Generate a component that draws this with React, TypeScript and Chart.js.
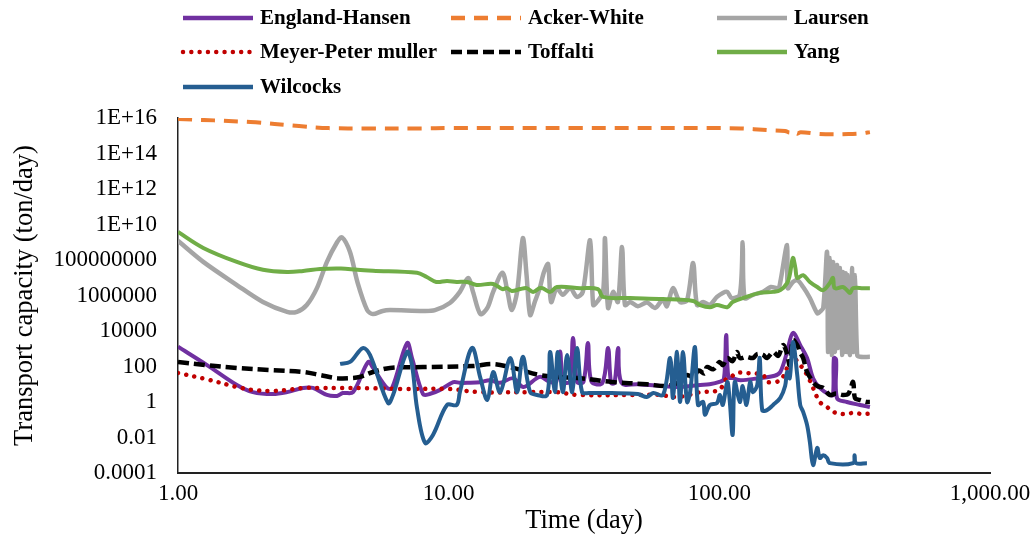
import React, { useEffect, useRef } from "react";
import { Chart, registerables } from "chart.js";

Chart.register(...registerables);

type Pt = [number, number]; // [day, ton/day]

const englandHansen: Pt[] = [
  [1, 1300], [1.28, 120], [1.65, 9], [1.89, 3.6], [2.24, 2.8], [2.53, 3.6], [2.9, 6.2], [3.15, 6.2],
  [3.55, 2.5], [3.87, 2.2], [4.07, 3.2], [4.43, 3.6], [5.04, 180], [5.26, 83], [5.92, 6.2], [6.18, 6.2],
  [7.02, 2100], [7.32, 300], [8.04, 2.8], [8.5, 2.8], [9.3, 4.8], [10.4, 13], [11, 12], [11.7, 12],
  [13.1, 13], [14.2, 17], [15.5, 12], [17.3, 22], [18.9, 7], [21.7, 26], [23.5, 14], [25, 14],
  [25.8, 700], [26.5, 14], [28, 14], [28.8, 4000], [29.8, 14], [31.5, 14], [32.7, 2100], [33.7, 14],
  [37, 12], [38.8, 1100], [39.8, 12], [41, 12], [42.3, 1100], [43.5, 12], [50, 10], [55, 9],
  [62, 8], [70, 7], [78, 8], [85, 9], [92, 10], [100, 13.5], [104, 20], [106, 5900],
  [108, 25], [112, 22], [120, 17], [140, 22], [160, 30], [168, 49], [178, 660], [187, 7800],
  [199, 1600], [211, 300], [222, 22], [235, 6.2], [256, 2.5], [263, 2.5], [265, 300], [270, 250],
  [272, 1.7], [296, 1], [331, 0.68], [360, 0.52],
];

const ackerWhite: Pt[] = [
  [1, 8.8e15], [1.85, 5.9e15], [2.8, 3.5e15], [3.6, 2.7e15], [5, 2.6e15], [8, 2.6e15], [10, 2.7e15],
  [30, 2.7e15], [60, 2.7e15], [100, 2.7e15], [120, 2.6e15], [150, 2.1e15], [175, 1.85e15], [182, 1.5e15],
  [187, 1.9e15], [194, 1.3e15], [200, 1.6e15], [230, 1.3e15], [260, 1.2e15], [300, 1.25e15],
  [340, 1.4e15], [360, 1.6e15],
];

const laursen: Pt[] = [
  [1, 1.2e9], [1.24, 7.8e7], [1.65, 3.9e6], [2.06, 4.3e5], [2.53, 1.2e5], [2.75, 1.2e5], [2.99, 2.9e5],
  [3.26, 2.6e6], [3.55, 7.8e7], [3.87, 1e9], [4.03, 1.9e9], [4.32, 2.8e8], [4.6, 5.8e6], [5, 1.5e5],
  [5.25, 9e4], [5.7, 1.35e5], [6.07, 1.5e5], [8.04, 1.35e5], [8.9, 1.5e5], [10.1, 3.8e5], [11, 1.6e6],
  [11.8, 9.8e6], [12.3, 1.6e6], [13.1, 9e4], [13.9, 2e5], [14.6, 1.6e6], [15.8, 1.9e7], [16.5, 1.6e6],
  [17.1, 1.5e5], [17.9, 1.6e6], [18.8, 1.7e9], [19.4, 1.4e7], [20, 8e4], [20.8, 4.3e5], [21.7, 2.6e6],
  [22.5, 2.1e7], [23.3, 5.9e7], [23.9, 4.3e5], [25.1, 2.6e6], [26.4, 1.1e6], [28.1, 2.6e6], [29.8, 8.3e5],
  [31.3, 1.6e6], [33.3, 1.3e9], [34.2, 2.9e5], [35.3, 4.3e5], [37.2, 1.6e6], [37.8, 1.7e9], [38.8, 2e5],
  [40.5, 1.6e6], [42.2, 4.3e5], [43.7, 5.4e8], [44.8, 2.9e5], [46.8, 4.3e5], [50, 2.5e5], [54, 4e5],
  [58, 2e5], [61.9, 6e5], [64, 2.5e5], [67.4, 2.6e6], [71.6, 4.3e5], [76, 5.6e5], [80, 6.8e7],
  [82.7, 2.9e5], [87.1, 4.3e5], [92, 3e5], [98, 8.3e5], [103, 1.4e6], [107, 1.6e6], [111, 7.2e5],
  [119, 1.1e6], [122, 1e9], [124, 7.2e5], [133, 1.1e6], [145, 1.6e6], [155, 3e6], [165, 2.6e6],
  [168, 5.8e6], [178, 7e8], [179, 2.6e6], [187, 5.8e6], [194, 7.4e6], [204, 3e6], [216, 7.2e5],
  [230, 1e5], [235, 1.2e5], [242, 2e5], [250, 2.8e8], [252, 660], [256, 1.3e8], [260, 450],
  [263, 7.8e7], [267, 660], [272, 5.2e7], [274, 1100], [279, 3.5e7], [284, 450], [286, 2.1e7],
  [290, 660], [293, 1.8e7], [296, 660], [298, 1.4e7], [304, 450], [309, 3.5e7], [312, 660],
  [317, 1.4e7], [323, 450], [331, 350], [360, 350],
];

const meyerPeterMuller: Pt[] = [
  [1, 43], [1.26, 20], [1.65, 7], [1.89, 4.8], [2.24, 4.2], [2.53, 4.8], [2.9, 6.2], [3.35, 6.2],
  [4, 6.2], [5, 6], [7, 5.4], [10, 5.4], [13, 3.6], [20, 3.6], [25, 3.6], [30, 2.5], [50, 2.5],
  [60, 2.5], [70, 1.9], [85, 3.6], [100, 4.8], [105, 17], [109, 22], [116, 43], [126, 43], [145, 33],
  [150, 13.5], [168, 17], [178, 83], [187, 300], [199, 120], [211, 33], [222, 6.2], [235, 1],
  [250, 0.52], [263, 0.28], [286, 0.21], [312, 0.24], [340, 0.21], [360, 0.22],
];

const toffalti: Pt[] = [
  [1, 180], [1.26, 120], [1.65, 83], [2.19, 63], [2.9, 49], [3.35, 33], [3.87, 22], [4.32, 22],
  [4.7, 26], [5.25, 49], [6.07, 83], [8.04, 93], [12.3, 107], [14.6, 138], [17.3, 83], [21.7, 33],
  [25, 26], [30.6, 22], [40, 13.5], [54, 10], [64, 8], [72, 15], [76, 33], [80, 25], [84, 60],
  [88, 40], [90, 93], [95, 70], [100, 180], [103, 120], [107, 300], [112, 200], [116, 660],
  [119, 300], [126, 350], [133, 300], [138, 500], [145, 450], [150, 300], [158, 660], [165, 400],
  [172, 1600], [178, 500], [182, 120], [187, 3000], [194, 1600], [199, 600], [204, 300], [211, 49],
  [222, 13.5], [230, 8], [242, 6.2], [256, 2.5], [270, 3], [286, 2.5], [300, 3], [312, 13.5],
  [317, 1.7], [330, 1.3], [351, 1], [360, 1],
];

const yang: Pt[] = [
  [1, 3.8e9], [1.24, 4.8e8], [1.65, 7.8e7], [2.06, 2.8e7], [2.53, 2.1e7], [2.9, 2.4e7], [3.35, 3.1e7],
  [4, 3.3e7], [4.6, 2.8e7], [5.25, 2.5e7], [7.64, 1.9e7], [8.3, 1.1e7], [9, 5.8e6], [9.86, 6.6e6],
  [10.7, 5.8e6], [11.7, 5.8e6], [12.7, 3.9e6], [14.6, 4.5e6], [15.8, 2.3e6], [16.4, 2.6e6],
  [17.1, 1.8e6], [18.4, 2.3e6], [19.4, 2.6e6], [20.5, 1.6e6], [21.7, 2.6e6], [22.2, 2.6e6],
  [23.7, 1.6e6], [25.1, 3e6], [30.6, 2.6e6], [35.6, 2.3e6], [37.2, 8.3e5], [46.8, 7.2e5],
  [61.9, 6.3e5], [80, 4.9e5], [84.9, 2.9e5], [92.3, 2.2e5], [98, 2.9e5], [107, 2.2e5], [112, 4.3e5],
  [126, 8.3e5], [141, 1.4e6], [158, 1.6e6], [168, 2e6], [178, 5e6], [182, 1.4e7], [187, 1.3e8],
  [191, 3.5e7], [194, 9.8e6], [204, 1.4e7], [216, 5.8e6], [230, 3e6], [242, 2e6], [256, 5e6],
  [263, 9.8e6], [267, 2.6e6], [286, 3e6], [296, 2e6], [304, 1.4e6], [312, 2.6e6], [340, 2.6e6],
  [360, 2.6e6],
];

const wilcocks: Pt[] = [
  [3.97, 140], [4.32, 180], [4.82, 1100], [5.12, 450], [5.97, 0.87], [6.23, 2.5], [7.02, 660],
  [7.32, 120], [7.64, 0.46], [8.18, 0.005], [8.75, 0.014], [9.86, 0.68], [10.7, 0.68], [11, 3.6],
  [12.2, 1100], [13.1, 22], [13.9, 1.3], [14.6, 49], [15.5, 3.6], [16.9, 300], [17.9, 3.6],
  [18.8, 350], [20, 3.6], [21.2, 2.5], [23.1, 2.5], [23.7, 660], [24.7, 3.6], [25.3, 660],
  [26.4, 3.6], [27.4, 450], [28.6, 3.6], [29.8, 1100], [31.1, 3.6], [33, 3.2], [40, 3.2], [50, 2.8],
  [54, 1.9], [57, 3.2], [62, 2.5], [65.8, 300], [67.4, 1.7], [69.8, 660], [71.6, 1], [73.4, 660],
  [76, 1], [78, 3.6], [81.3, 1250], [83.4, 0.68], [87.1, 1], [88.5, 0.19], [92.3, 0.68], [98, 0.87],
  [100.5, 2.5], [103, 0.68], [107, 13.5], [109, 1.7], [112, 0.014], [114, 13.5], [119, 1], [122, 7.9],
  [126, 0.68], [130, 13.5], [133, 3.6], [138, 9], [141, 300], [144, 0.35], [150, 0.35], [158, 0.68],
  [168, 1.7], [175, 7.9], [178, 49], [182, 22], [187, 2400], [194, 33], [199, 0.68], [204, 0.28],
  [211, 0.05], [216, 0.0056], [222, 0.00028], [230, 0.0026], [235, 0.0007], [242, 0.001],
  [250, 0.0007], [256, 0.00036], [312, 0.00036], [316, 0.001], [320, 0.00036], [351, 0.00036],
];

const SERIES_LABELS = [
  "England-Hansen", "Acker-White", "Laursen", "Meyer-Peter muller", "Toffalti", "Yang", "Wilcocks",
];
const SERIES_DATA: Pt[][] = [englandHansen, ackerWhite, laursen, meyerPeterMuller, toffalti, yang, wilcocks];

const X_TICKS = [1, 10, 100, 1000];
const X_TICK_LABELS = ["1.00", "10.00", "100.00", "1,000.00"];
const Y_TICKS = [1e-4, 1e-2, 1, 1e2, 1e4, 1e6, 1e8, 1e10, 1e12, 1e14, 1e16];
const Y_TICK_LABELS = [
  "0.0001", "0.01", "1", "100", "10000", "1000000", "100000000", "1E+10", "1E+12", "1E+14", "1E+16",
];

const X_TITLE = "Time (day)";
const Y_TITLE = "Transport capacity (ton/day)";

// styles (kept apart from the data)
const STYLES = [
  { color: "#7030A0", width: 4, dash: [] as number[], cap: "butt", tension: 0.35 },
  { color: "#ED7D31", width: 4, dash: [14, 9], cap: "butt", tension: 0.35 },
  { color: "#A5A5A5", width: 4.5, dash: [] as number[], cap: "butt", tension: 0.3 },
  { color: "#C00000", width: 4.5, dash: [0.01, 8.3], cap: "round", tension: 0.35 },
  { color: "#000000", width: 4.5, dash: [11, 5], cap: "butt", tension: 0.35 },
  { color: "#70AD47", width: 4, dash: [] as number[], cap: "butt", tension: 0.35 },
  { color: "#255E91", width: 4, dash: [] as number[], cap: "butt", tension: 0.35 },
];

const FONT = '"Liberation Serif", "Times New Roman", serif';
const LEG_X = [183, 451, 717];
const LEG_Y = [18, 52, 87];

const gridLegend = {
  id: "gridLegend",
  afterDraw(chart: any) {
    const ctx: CanvasRenderingContext2D = chart.ctx;
    ctx.save();
    chart.data.datasets.forEach((ds: any, i: number) => {
      const x0 = LEG_X[i % 3];
      const y = LEG_Y[Math.floor(i / 3)];
      ctx.beginPath();
      ctx.setLineDash(ds.borderDash || []);
      ctx.lineCap = ds.borderCapStyle || "butt";
      ctx.strokeStyle = ds.borderColor;
      ctx.lineWidth = 4.5;
      ctx.moveTo(x0, y);
      ctx.lineTo(x0 + 70, y);
      ctx.stroke();
      ctx.setLineDash([]);
      ctx.fillStyle = "#000";
      ctx.font = `bold 21px ${FONT}`;
      ctx.textBaseline = "middle";
      ctx.textAlign = "left";
      ctx.fillText(ds.label, x0 + 77, y + 1);
    });
    ctx.restore();
  },
};

export default function App() {
  const canvasRef = useRef<HTMLCanvasElement | null>(null);

  useEffect(() => {
    if (!canvasRef.current) return;
    const datasets = SERIES_LABELS.map((label, i) => ({
      label,
      data: SERIES_DATA[i].map(([x, y]) => ({ x, y })),
      borderColor: STYLES[i].color,
      backgroundColor: STYLES[i].color,
      borderWidth: STYLES[i].width,
      borderDash: STYLES[i].dash,
      borderCapStyle: STYLES[i].cap,
      borderJoinStyle: "round",
      tension: STYLES[i].tension,
      pointRadius: 0,
      fill: false,
      order: SERIES_LABELS.length - i,
    }));

    const chart = new Chart(canvasRef.current, {
      type: "line",
      data: { datasets } as any,
      plugins: [gridLegend],
      options: {
        animation: false,
        responsive: false,
        parsing: true,
        layout: { padding: { top: 118, right: 42, left: 0, bottom: 0 } },
        plugins: { legend: { display: false }, tooltip: { enabled: false } },
        scales: {
          x: {
            type: "logarithmic",
            min: 1,
            max: 1000,
            afterBuildTicks: (s: any) => {
              s.ticks = X_TICKS.map((v) => ({ value: v }));
            },
            afterFit: (s: any) => {
              s.height = 64;
              s.paddingLeft = 0;
              s.paddingRight = 0;
            },
            ticks: {
              autoSkip: false,
              maxRotation: 0,
              padding: 7,
              color: "#000",
              font: { family: FONT, size: 23 },
              callback: (_v: any, idx: number) => X_TICK_LABELS[idx],
            },
            grid: { display: false, drawTicks: false },
            border: { display: true, color: "#222", width: 2 },
            title: {
              display: true,
              text: X_TITLE,
              color: "#000",
              font: { family: FONT, size: 26.5 },
              padding: { top: 0, bottom: 0 },
            },
          },
          y: {
            type: "logarithmic",
            min: 1e-4,
            max: 1e16,
            afterBuildTicks: (s: any) => {
              s.ticks = Y_TICKS.map((v) => ({ value: v }));
            },
            afterFit: (s: any) => {
              s.width = 178;
              s.paddingTop = 0;
              s.paddingBottom = 0;
            },
            ticks: {
              autoSkip: false,
              padding: 21,
              color: "#000",
              font: { family: FONT, size: 23 },
              callback: (_v: any, idx: number) => Y_TICK_LABELS[idx],
            },
            grid: { display: false, drawTicks: false },
            border: { display: true, color: "#222", width: 1.5 },
            title: {
              display: true,
              text: Y_TITLE,
              color: "#000",
              font: { family: FONT, size: 26.5 },
              padding: { top: 9, bottom: 0 },
            },
          },
        },
      } as any,
    });
    return () => chart.destroy();
  }, []);

  return (
    <div style={{ position: "fixed", left: 0, top: 0, width: 1032, height: 537, background: "#fff" }}>
      <canvas ref={canvasRef} width={1032} height={537} style={{ display: "block" }} />
    </div>
  );
}
